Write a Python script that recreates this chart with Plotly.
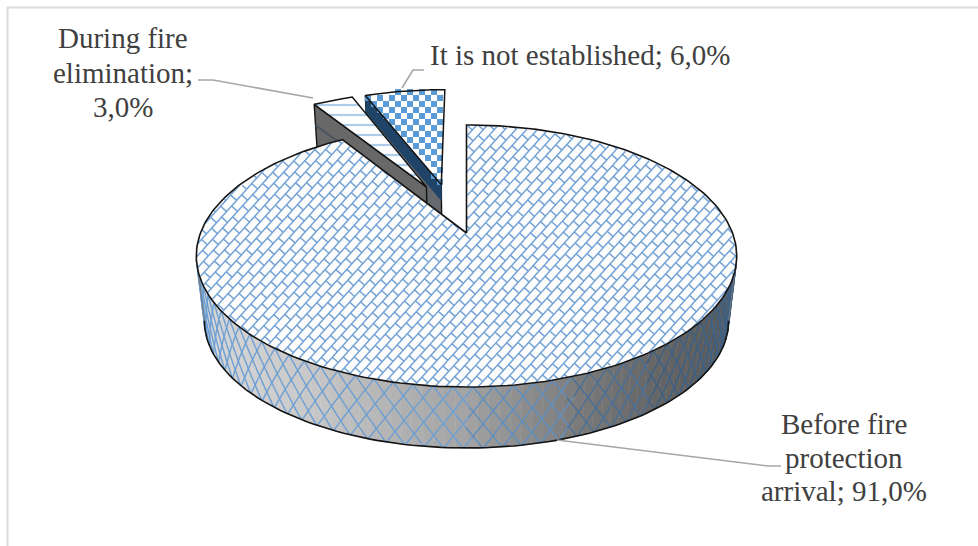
import numpy as np
import plotly.graph_objects as go

# Chart data
categories = ["Before fire protection arrival", "During fire elimination", "It is not established"]
shares = [91.0, 3.0, 6.0]
label_lines = [["Before fire", "protection", "arrival; {}"], ["During fire", "elimination;", "{}"], ["It is not established; {}"]]

# Pie geometry on the page, in pixels
W, H = 978, 546
CX, CY = 466.5, 233.0
RX, RY, K = 266.0, 127.0, 0.1756
BOTTOM_SCALE, BOTTOM_DROP = 0.97, 65.6
EXPLODE = {1: (0.42, -22.5), 2: (0.42, -14.0)}

OUTLINE = "#141414"
TEXT = "#404040"
LEADER = "#a6a6a6"
BLUE = "#5b9bd5"
BRICK = "#74a3d6"

spans = np.cumsum([0] + shares) * 3.6


def project(X, Y, t=0.0):
    """Perspective projection of a disc point; t runs from top face (0) to bottom face (1)."""
    X, Y = np.asarray(X, float), np.asarray(Y, float)
    s = 1 / (1 + K * Y)
    xt, yt = CX + RX * X * s, CY - RY * Y * s
    xb = CX + RX * BOTTOM_SCALE * X * s
    yb = CY + BOTTOM_DROP - RY * BOTTOM_SCALE * Y * s
    return xt + (xb - xt) * t, yt + (yb - yt) * t


def unproject(x, y):
    u, v = (x - CX) / RX, (CY - y) / RY
    Y = v / (1 - K * v)
    return u * (1 + K * Y), Y


def offset(i):
    if i not in EXPLODE:
        return 0.0, 0.0
    e, a = EXPLODE[i]
    return e * np.sin(np.radians(a)), e * np.cos(np.radians(a))


def rim(i, a, t=0.0):
    ox, oy = offset(i)
    a = np.radians(a)
    return project(ox + np.sin(a), oy + np.cos(a), t)


def inside(i, x, y):
    ox, oy = offset(i)
    X, Y = unproject(x, y)
    X, Y = X - ox, Y - oy
    ang = np.degrees(np.arctan2(X, Y)) % 360
    return (X * X + Y * Y <= 1) & (ang >= spans[i]) & (ang <= spans[i + 1])


def sector_path(i):
    a = np.linspace(spans[i], spans[i + 1], 240 if i == 0 else 24)
    x, y = rim(i, a)
    ax, ay = project(*offset(i))
    return np.r_[ax, x, ax], np.r_[ay, y, ay]


def radial_face(i, angle, t0=0.0, t1=1.0):
    ox, oy = offset(i)
    x0, y0 = project(ox, oy, t0)
    x1, y1 = rim(i, angle, t0)
    x2, y2 = rim(i, angle, t1)
    x3, y3 = project(ox, oy, t1)
    return [x0, x1, x2, x3, x0], [y0, y1, y2, y3, y0]


fig = go.Figure()


def poly(x, y, fill, line=None, width=1.4, **kw):
    fig.add_trace(go.Scatter(
        x=x, y=y, mode="lines", fill="toself", fillcolor=fill,
        line=dict(color=line or fill, width=width if line else 0.6),
        hoverinfo="skip", showlegend=False, **kw))


def path(x, y, color, width):
    fig.add_trace(go.Scatter(x=x, y=y, mode="lines", line=dict(color=color, width=width),
                             hoverinfo="skip", showlegend=False, connectgaps=False))


# Slice 3: cut face (navy above, grey below), then its checked top
a_left = spans[2]
poly(*radial_face(2, a_left, 0.0, 1.0), "#666a6e", OUTLINE)
poly(*radial_face(2, a_left, 0.0, 0.24), "#1f4468")
x, y = sector_path(2)
poly(x, y, "#ffffff")
cell = 6.0
gx, gy = np.meshgrid(np.arange(0, 90) * cell + 350, np.arange(0, 40) * cell + 80)
ij = (np.arange(90)[None, :] + np.arange(40)[:, None]) % 2 == 0
keep = ij & inside(2, gx, gy)
fig.add_trace(go.Scatter(x=gx[keep], y=gy[keep], mode="markers",
                         marker=dict(symbol="square", size=cell, color=BLUE, line=dict(width=0)),
                         hoverinfo="skip", showlegend=False))
path(x, y, OUTLINE, 1.5)

# Slice 2: cut face with darker bands, then its striped top
a_left = spans[1]
poly(*radial_face(1, a_left, 0.0, 1.0), "#686868", OUTLINE)
for t in (0.3, 0.62):
    fx, fy = radial_face(1, a_left, t, t)
    path(fx[:2], fy[:2], "#4b5663", 2)
x, y = sector_path(1)
poly(x, y, "#ffffff", OUTLINE, 1.5,
     fillpattern=dict(shape="-", size=10, solidity=0.22, fgcolor=BLUE, bgcolor="#ffffff"))

# Slice 1: outer wall as shaded strips
wall_angles = np.linspace(96, 264, 85)
ramp_x = [197, 300, 400, 470, 550, 650, 738]
ramp_v = [216, 202, 178, 162, 132, 104, 88]
for a0, a1 in zip(wall_angles[:-1], wall_angles[1:]):
    xt, yt = rim(0, np.array([a0, a1]))
    xb, yb = rim(0, np.array([a1, a0]), 1.0)
    v = int(np.interp((xt[0] + xt[1]) / 2, ramp_x, ramp_v))
    poly(np.r_[xt, xb, xt[0]], np.r_[yt, yb, yt[0]], f"rgb({v},{v},{v})")

# Diamond net printed on the wall, split into colour bands that darken to the right
bands = {c: ([], []) for c in ("#6d9fd3", "#5f8fc0", "#4a6f98", "#3d6186")}
band_edges = [470, 570, 650]
depth = np.linspace(0, 1, 7)
for sign in (1, -1):
    for start in np.arange(60, 300, 3.6):
        for t0, t1 in zip(depth[:-1], depth[1:]):
            a0, a1 = start + sign * t0 * 8.9, start + sign * t1 * 8.9
            if not (100.5 <= min(a0, a1) and max(a0, a1) <= 259.5):
                continue
            x0, y0 = rim(0, a0, t0)
            x1, y1 = rim(0, a1, t1)
            c = list(bands)[int(np.searchsorted(band_edges, (x0 + x1) / 2))]
            bands[c][0].extend([float(x0), float(x1), None])
            bands[c][1].extend([float(y0), float(y1), None])
for c, (bx, by) in bands.items():
    path(bx, by, c, 1.4)

# Wall outline
a = np.linspace(100, 260, 120)
bx, by = rim(0, a, 1.0)
path(bx, by, OUTLINE, 1.6)
for edge in (100.0, 260.0):
    ex0, ey0 = rim(0, edge)
    ex1, ey1 = rim(0, edge, 1.0)
    path([ex0, ex1], [ey0, ey1], "#777777", 1)

# Slice 1: top face with a brick weave clipped to the sector
x, y = sector_path(0)
poly(x, y, "#fdfdfd")


def clipped(px, py, qx, qy, bx, by):
    n = max(int(np.hypot(qx - px, qy - py) / 1.5), 2)
    t = np.linspace(0, 1, n)
    sx, sy = px + (qx - px) * t, py + (qy - py) * t
    mask = inside(0, sx, sy)
    if not mask.any():
        return
    edges = np.flatnonzero(np.diff(np.r_[0, mask.astype(int), 0]))
    for s, e in zip(edges[::2], edges[1::2]):
        bx.extend([float(sx[s]), float(sx[e - 1]), None])
        by.extend([float(sy[s]), float(sy[e - 1]), None])


ux, uy = np.cos(np.radians(48)), -np.sin(np.radians(48))
vx, vy = -uy, ux
row, brick = 8.0, 15.0
wx, wy = [], []
for n in range(-50, 51):
    ox, oy = CX + vx * n * row, 256 + vy * n * row
    clipped(ox - ux * 420, oy - uy * 420, ox + ux * 420, oy + uy * 420, wx, wy)
    for m in range(-30, 31):
        s = m * brick + (n % 2) * brick / 2
        px, py = ox + ux * s, oy + uy * s
        clipped(px, py, px + vx * row, py + vy * row, wx, wy)
path(wx, wy, BRICK, 1.5)
path(x, y, OUTLINE, 1.6)

# Leader lines
leaders_x = [[557, 768, 781], [198, 213, 313], [402, 413, 424]]
leaders_y = [[440, 466, 466], [80, 80, 98], [88, 70, 70]]
for lx, ly in zip(leaders_x, leaders_y):
    path(lx, ly, LEADER, 1.6)

# Data labels, one annotation per text line so the leading can be set exactly
label_x = [844, 122.5, 579.5]
label_y = [[424, 458, 491], [38, 73, 107], [55]]
for lines, share, lx, ys in zip(label_lines, shares, label_x, label_y):
    value = f"{share:.1f}%".replace(".", ",")
    for line, ly in zip(lines, ys):
        fig.add_annotation(x=lx, y=ly, xref="x", yref="y", showarrow=False,
                           text=line.format(value), xanchor="center", yanchor="middle",
                           font=dict(family="Liberation Serif", size=29, color=TEXT))

fig.update_layout(
    width=W, height=H, margin=dict(l=0, r=0, t=0, b=0),
    paper_bgcolor="#ffffff", plot_bgcolor="#ffffff", showlegend=False,
    xaxis=dict(range=[0, W], visible=False, fixedrange=True),
    yaxis=dict(range=[H, 0], visible=False, fixedrange=True),
    shapes=[
        dict(type="line", xref="x", yref="y", x0=7, x1=W, y0=7.5, y1=7.5, line=dict(color="#dcdcdc", width=2)),
        dict(type="line", xref="x", yref="y", x0=7.5, x1=7.5, y0=7, y1=H, line=dict(color="#dcdcdc", width=2)),
    ],
)
fig.write_html("out.html", config={"displayModeBar": False})
